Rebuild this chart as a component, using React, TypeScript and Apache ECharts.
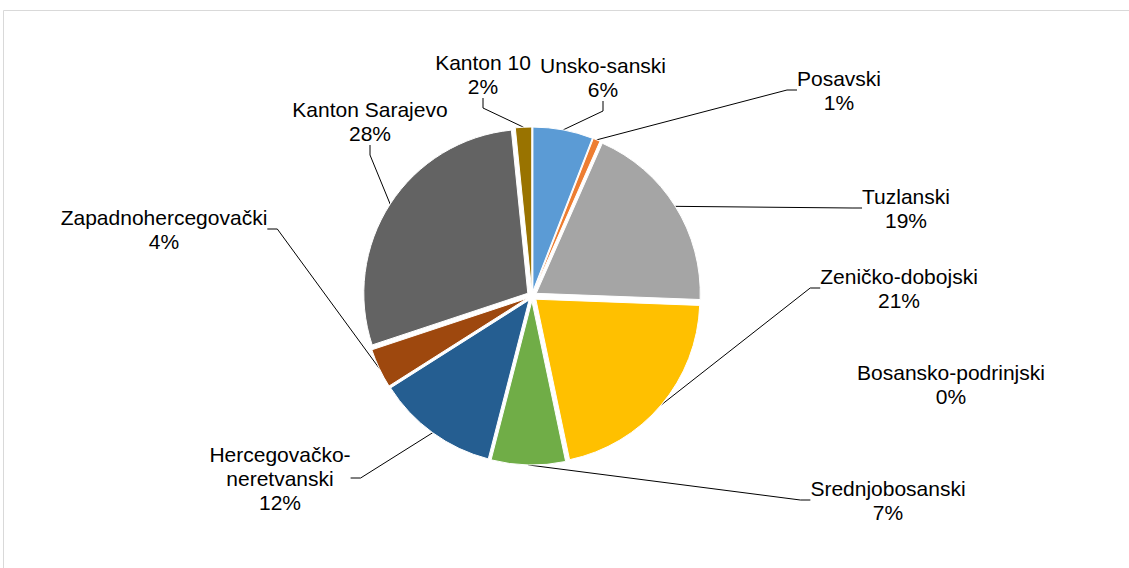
import React, { useEffect, useRef } from 'react';
import * as echarts from 'echarts';

const categories = [
  'Unsko-sanski',
  'Posavski',
  'Tuzlanski',
  'Zeničko-dobojski',
  'Bosansko-podrinjski',
  'Srednjobosanski',
  'Hercegovačko-neretvanski',
  'Zapadnohercegovački',
  'Kanton Sarajevo',
  'Kanton 10',
];
const values = [5.9, 0.7, 19.0, 21.1, 0, 7.3, 12.0, 3.9, 28.5, 1.6];
const colors = ['#5B9BD5', '#ED7D31', '#A5A5A5', '#FFC000', '#4472C4', '#70AD47', '#255E91', '#9E480E', '#636363', '#997300'];
// label block centres (pixels)
const labelCenters = [
  [603, 77],
  [839, 90],
  [906, 208],
  [899, 288],
  [951, 384],
  [888, 500],
  [280, 478],
  [164, 229],
  [370, 121],
  [483, 74],
];

const CENTER = [532, 296];
const R = 164;
const EXPLODE = 5;

export default function App() {
  const ref = useRef<HTMLDivElement>(null);
  useEffect(() => {
    if (!ref.current) return;
    const chart = echarts.init(ref.current, null, { renderer: 'svg' });
    chart.setOption({
      animation: false,
      backgroundColor: '#ffffff',
      graphic: [
        {
          type: 'rect',
          shape: { x: 3.5, y: 10.5, width: 1200, height: 700 },
          style: { fill: 'none', stroke: '#d9d9d9', lineWidth: 1 },
          silent: true,
        },
      ],
      series: [
        {
          type: 'pie',
          center: CENTER,
          radius: R,
          startAngle: 90,
          clockwise: true,
          selectedMode: 'multiple',
          selectedOffset: EXPLODE,
          avoidLabelOverlap: false,
          emphasis: { disabled: true },
          select: { itemStyle: { borderColor: '#ffffff', borderWidth: 1 } },
          itemStyle: { borderColor: '#ffffff', borderWidth: 1 },
          label: { show: false },
          labelLine: { show: false },
          data: categories.map((name, i) => ({
            name,
            value: values[i],
            selected: true,
            itemStyle: { color: colors[i] },
          })),
        },
        {
          type: 'pie',
          center: CENTER,
          radius: R + EXPLODE,
          startAngle: 90,
          clockwise: true,
          silent: true,
          selectedMode: false,
          percentPrecision: 0,
          avoidLabelOverlap: false,
          emphasis: { disabled: true },
          itemStyle: { color: 'rgba(0,0,0,0)', borderWidth: 0 },
          data: categories.map((name, i) => ({
            name,
            value: values[i],
            labelLine: values[i] === 0 ? { show: false } : undefined,
          })),
          label: {
            show: true,
            position: 'outside',
            formatter: (p: any) => {
              const n = p.name.length > 20 ? p.name.replace('-', '-\n') : p.name;
              return n + '\n' + p.percent + '%';
            },
            color: '#000000',
            fontFamily: '"Liberation Sans", Arial, sans-serif',
            fontSize: 21,
            lineHeight: 24,
            align: 'center',
          },
          labelLine: {
            show: true,
            length: 10,
            length2: 10,
            smooth: false,
            lineStyle: { color: '#000000', width: 1 },
          },
          labelLayout: (params: any) => ({
            x: labelCenters[params.dataIndex][0],
            y: labelCenters[params.dataIndex][1],
            align: 'center',
            verticalAlign: 'middle',
          }),
        },
      ],
    });
    return () => chart.dispose();
  }, []);
  return (
    <div style={{ position: 'absolute', left: 0, top: 0 }}>
      <div ref={ref} style={{ width: 1129, height: 568 }} />
    </div>
  );
}
